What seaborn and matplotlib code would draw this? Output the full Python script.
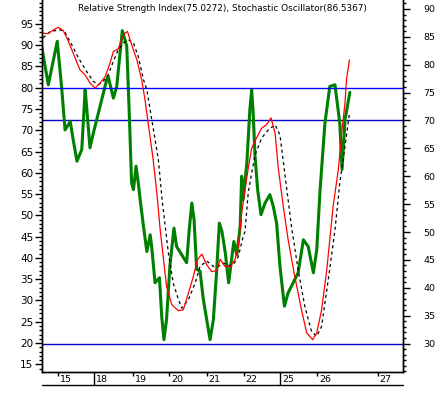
import matplotlib
matplotlib.use('Agg')
import matplotlib.pyplot as plt
import matplotlib.ticker as mticker
from matplotlib.lines import Line2D
import seaborn as sns

sns.set_style('ticks', {'axes.edgecolor': 'black', 'text.color': 'black',
                        'xtick.color': 'black', 'ytick.color': 'black'})
plt.rcParams['font.family'] = ['DejaVu Sans']

#### DATA ####
# x = trading day position ('15 = 0, '18 = 1, ...)
rsi_t = [-0.45, -0.27, -0.03, 0.09, 0.18, 0.32, 0.40, 0.50, 0.63, 0.72, 0.76, 0.85, 0.94,
         1.30, 1.34, 1.48, 1.57, 1.72, 1.79, 1.84, 1.91, 1.97, 2.02, 2.09, 2.15, 2.20,
         2.29, 2.38, 2.47, 2.51, 2.60, 2.72, 2.78, 2.84, 2.91, 3.00, 3.11, 3.18, 3.45,
         3.52, 3.59, 3.65, 3.72, 3.81, 3.90, 4.08, 4.17, 4.26, 4.33, 4.40, 4.49, 4.58,
         4.72, 4.80, 4.89, 4.93, 4.97, 5.07, 5.15, 5.20, 5.24, 5.29, 5.36, 5.45, 5.56,
         5.69, 5.78, 5.87, 5.96, 6.08, 6.18, 6.36, 6.45, 6.59, 6.72, 6.86, 6.95, 7.04,
         7.17, 7.30, 7.44, 7.57, 7.63, 7.71, 7.84]
rsi_v = [83.3, 76.4, 84.2, 75.8, 68.3, 69.8, 66.5, 62.7, 64.8, 75.5, 72.5, 65.1, 67.7,
         77.3, 77.9, 74.0, 76.1, 86.1, 84.5, 83.3, 70.7, 58.8, 57.6, 61.8, 58.8, 55.8,
         51.0, 46.5, 49.5, 47.4, 40.9, 41.8, 34.9, 30.7, 34.3, 43.9, 50.7, 47.4, 44.5,
         50.4, 55.2, 52.2, 43.3, 43.0, 37.9, 30.7, 34.3, 43.3, 51.6, 50.1, 46.3, 40.9,
         48.3, 45.9, 51.0, 60.0, 55.8, 62.4, 71.9, 75.5, 71.3, 63.6, 57.6, 53.1, 55.2,
         56.7, 54.6, 51.6, 43.9, 36.7, 39.1, 41.5, 42.7, 48.6, 47.4, 42.7, 46.8, 57.6,
         69.5, 76.1, 76.4, 69.5, 61.2, 70.1, 75.03]

k_t = [-0.45, -0.27, -0.13, 0.00, 0.13, 0.23, 0.40, 0.58, 0.72, 0.85, 0.99, 1.12, 1.26,
       1.39, 1.48, 1.61, 1.70, 1.79, 1.86, 1.97, 2.11, 2.24, 2.33, 2.55, 2.65, 2.73,
       2.82, 2.91, 3.05, 3.23, 3.36, 3.50, 3.63, 3.74, 3.86, 3.99, 4.12, 4.26, 4.35,
       4.48, 4.62, 4.75, 4.84, 4.93, 5.02, 5.11, 5.20, 5.33, 5.47, 5.60, 5.72, 5.83,
       5.91, 6.05, 6.18, 6.36, 6.54, 6.68, 6.84, 6.95, 7.08, 7.22, 7.39, 7.53, 7.62,
       7.71, 7.75, 7.83]
k_v = [92.8, 92.7, 93.6, 94.2, 93.4, 91.7, 88.1, 84.2, 83.0, 81.1, 79.9, 81.1, 82.6,
       85.8, 88.5, 89.1, 91.3, 92.8, 93.2, 90.1, 86.6, 81.9, 77.2, 63.1, 55.2, 47.4,
       40.3, 33.3, 29.0, 27.6, 27.8, 31.8, 35.6, 39.6, 40.9, 38.4, 36.8, 37.0, 39.7,
       38.0, 37.9, 39.6, 42.7, 50.5, 56.0, 61.2, 65.8, 68.2, 70.5, 71.3, 72.9, 69.3,
       61.5, 52.1, 44.3, 35.6, 27.8, 22.4, 20.8, 22.4, 27.8, 37.2, 52.1, 60.7, 69.3,
       76.4, 81.9, 86.5367]

d_t = [-0.41, -0.22, 0.05, 0.18, 0.36, 0.54, 0.76, 0.94, 1.08, 1.21, 1.34, 1.48, 1.61,
       1.75, 1.88, 2.02, 2.15, 2.29, 2.38, 2.69, 2.79, 2.96, 3.09, 3.23, 3.32, 3.50,
       3.68, 3.81, 3.99, 4.17, 4.30, 4.44, 4.57, 4.70, 4.84, 4.97, 5.02, 5.11, 5.29,
       5.47, 5.65, 5.83, 5.96, 6.09, 6.27, 6.45, 6.63, 6.81, 6.95, 7.08, 7.26, 7.44,
       7.57, 7.71, 7.83]
d_v = [91.7, 93.2, 93.6, 93.0, 90.1, 87.0, 83.8, 81.5, 80.7, 81.5, 83.0, 86.2, 88.9,
       90.5, 91.3, 90.5, 87.3, 81.9, 79.5, 63.1, 53.7, 41.1, 34.1, 30.2, 28.2, 30.2,
       34.1, 38.0, 39.3, 38.0, 38.0, 38.8, 38.2, 38.4, 40.3, 45.0, 46.2, 55.6, 64.2,
       68.2, 70.1, 71.3, 68.9, 59.9, 47.4, 37.2, 28.6, 22.7, 21.6, 23.9, 34.9, 46.6,
       57.6, 66.2, 74.0]

day_pos = [0, 0.97, 2, 2.98, 3.99, 4.98, 5.97, 6.97, 8.59]
day_lab = ['15', '18', '19', '20', '21', '22', '25', '26', '27']
week_start = ['18', '25']

rsi_last = 75.0272
stoch_last = 86.5367

#### PLOT ####
fig = plt.figure(figsize=(4.44, 3.97), dpi=100)
ax = fig.add_axes([42 / 444, 25 / 397, 361 / 444, 372 / 397])
ax2 = ax.twinx()
ax.set_zorder(ax2.get_zorder() + 1)
ax.patch.set_visible(False)

# RSI on the right scale
ax2.axhline(70, color='#0000C8', lw=1)
ax2.axhline(30, color='#0000C8', lw=1)
sns.lineplot(x=rsi_t, y=rsi_v, ax=ax2, color='#008000', lw=2.2,
             sort=False, estimator=None)

# stochastic on the left scale
ax.axhline(80, color='#0000FF', lw=1)
sns.lineplot(x=d_t, y=d_v, ax=ax, color='black', lw=0.9, linestyle=(0, (2.5, 2.5)),
             sort=False, estimator=None)
sns.lineplot(x=k_t, y=k_v, ax=ax, color='#FF0000', lw=0.9,
             sort=False, estimator=None)

ax.set_xlim(-0.44, 9.27)
ax.set_ylim(13.2, 100.6)
ax2.set_ylim(24.9, 91.6)

for a in (ax, ax2):
    a.spines['top'].set_visible(False)
    for s in a.spines.values():
        s.set_linewidth(1)
    a.set_xlabel('')
    a.set_ylabel('')

ax.yaxis.set_major_locator(mticker.MultipleLocator(5))
ax.yaxis.set_minor_locator(mticker.MultipleLocator(1))
ax.tick_params(axis='y', which='major', length=5, width=1, pad=1.2, labelsize=7.5)
ax.tick_params(axis='y', which='minor', length=2.5, width=1)
ax.set_yticks([v for v in range(15, 100, 5)])

ax2.yaxis.set_major_locator(mticker.MultipleLocator(5))
ax2.yaxis.set_minor_locator(mticker.MultipleLocator(1))
ax2.tick_params(axis='y', which='major', length=5, width=1, pad=9.5, labelsize=6.8)
ax2.tick_params(axis='y', which='minor', length=2.5, width=1)
ax2.set_yticks([v for v in range(30, 95, 5)])

# day axis under the plot
sep = [p for p, l in zip(day_pos, day_lab) if l in week_start]
small = [p for p, l in zip(day_pos, day_lab) if l not in week_start]
ax.set_xticks(small)
ax.set_xticklabels([])
ax.set_xticks(sep, minor=True)
ax.tick_params(axis='x', which='major', length=3, width=1, direction='out')
ax.tick_params(axis='x', which='minor', length=9.4, width=1, direction='out')
ax2.tick_params(axis='x', which='both', length=0)
for p, lab in zip(day_pos, day_lab):
    ax.annotate(lab, xy=(p, 0), xycoords=('data', 'axes fraction'),
                xytext=(2, -7), textcoords='offset pixels',
                ha='left', va='center', fontsize=6.8, annotation_clip=False)
fig.add_artist(Line2D([42 / 444, 403 / 444], [12 / 397, 12 / 397],
                      color='black', lw=1, transform=fig.transFigure))

fig.text(222.5 / 444, 1 - 8.5 / 397,
         f'Relative Strength Index({rsi_last}), Stochastic Oscillator({stoch_last})',
         ha='center', va='center', fontsize=6.4)

fig.savefig('out.png', dpi=100)
